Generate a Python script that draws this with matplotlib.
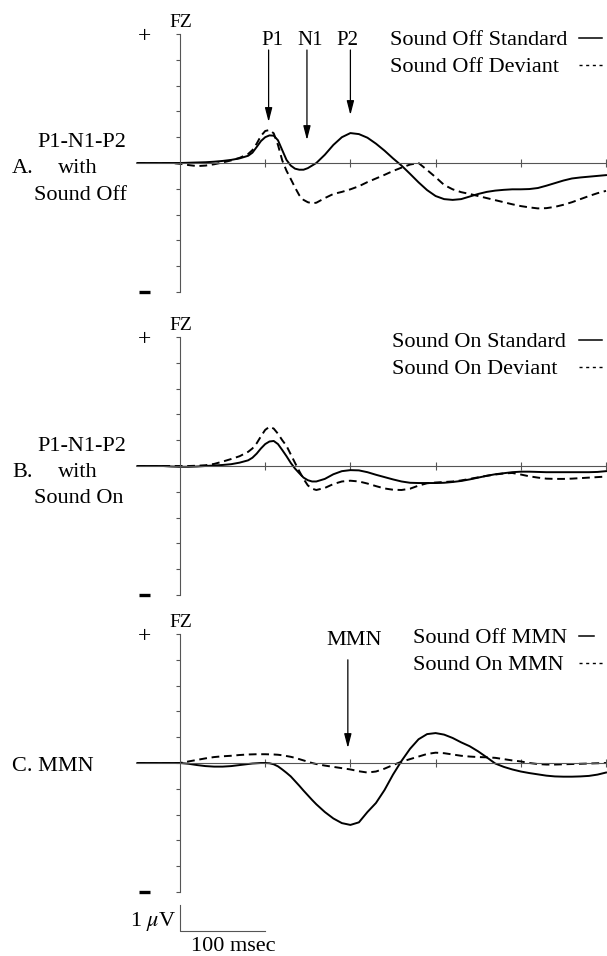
import matplotlib
matplotlib.use("Agg")
import matplotlib.pyplot as plt
import numpy as np

plt.rcParams['font.family'] = ['Liberation Serif', 'DejaVu Serif']
plt.rcParams['mathtext.fontset'] = 'stix'

# ---------------- data (µV), finer sampling around the early peaks ----------------
time_ms = ([-50, -40, -30, -20, -10, 0, 10, 20, 30, 40, 50, 60, 70, 80]
           + list(range(85, 161, 5))
           + list(range(170, 501, 10)))

sound_off_standard = [
    0, 0, 0, 0, 0, 0, 0.01, 0.02, 0.03, 0.05, 0.08, 0.12, 0.18, 0.28,
    0.4, 0.62, 0.85, 1.0, 1.07, 1.06, 0.88, 0.5, 0.12, -0.1, -0.22, -0.26, -0.26, -0.2, -0.1, 0.0,
    0.32, 0.7, 1.0, 1.16, 1.12, 0.98, 0.75, 0.48,
    0.18, -0.1, -0.42, -0.75, -1.05, -1.28, -1.4, -1.43, -1.4, -1.3,
    -1.2, -1.12, -1.07, -1.04, -1.02, -1.02, -1.01, -0.97, -0.88, -0.78,
    -0.68, -0.6, -0.56, -0.53, -0.5, -0.47]
sound_off_deviant = [
    0, 0, 0, 0, 0, -0.03, -0.08, -0.12, -0.1, -0.05, 0.02, 0.1, 0.2, 0.35,
    0.5, 0.75, 1.05, 1.24, 1.28, 1.15, 0.7, 0.1, -0.3, -0.62, -0.95, -1.25, -1.43, -1.52, -1.56, -1.54,
    -1.36, -1.2, -1.12, -1.02, -0.9, -0.74, -0.6, -0.46,
    -0.31, -0.18, -0.06, 0.0, -0.27, -0.55, -0.85, -1.02, -1.13, -1.2,
    -1.28, -1.36, -1.44, -1.52, -1.6, -1.67, -1.72, -1.76, -1.75, -1.7,
    -1.62, -1.52, -1.4, -1.28, -1.17, -1.08]

sound_on_standard = [
    0, 0, 0, 0, -0.02, -0.03, -0.03, -0.02, 0.0, 0.02, 0.04, 0.07, 0.13, 0.22,
    0.32, 0.48, 0.68, 0.85, 0.95, 0.97, 0.85, 0.62, 0.38, 0.12, -0.1, -0.28, -0.45, -0.55, -0.6, -0.6,
    -0.5, -0.32, -0.2, -0.16, -0.17, -0.24, -0.34, -0.43,
    -0.52, -0.6, -0.65, -0.66, -0.66, -0.66, -0.65, -0.62, -0.58, -0.52,
    -0.45, -0.38, -0.32, -0.28, -0.24, -0.22, -0.22, -0.23, -0.24, -0.24,
    -0.24, -0.24, -0.24, -0.24, -0.23, -0.2]
sound_on_deviant = [
    0, 0, 0, 0, 0, 0, 0, 0.01, 0.03, 0.08, 0.17, 0.27, 0.38, 0.55,
    0.68, 0.88, 1.15, 1.4, 1.52, 1.45, 1.25, 1.0, 0.78, 0.45, 0.12, -0.2, -0.5, -0.75, -0.88, -0.93,
    -0.85, -0.7, -0.6, -0.57, -0.6, -0.68, -0.78, -0.87,
    -0.92, -0.93, -0.88, -0.76, -0.67, -0.64, -0.62, -0.6, -0.56, -0.5,
    -0.44, -0.38, -0.33, -0.29, -0.27, -0.33, -0.4, -0.45, -0.49, -0.5,
    -0.5, -0.49, -0.47, -0.45, -0.43, -0.41]

sound_off_mmn = [
    0, 0, 0, 0, 0, 0, -0.03, -0.08, -0.12, -0.14, -0.14, -0.12, -0.08, -0.04,
    -0.02, -0.01, 0.0, 0.0, -0.01, -0.05, -0.13, -0.25, -0.38, -0.52, -0.7, -0.88, -1.07, -1.25, -1.43, -1.6,
    -1.9, -2.15, -2.33, -2.4, -2.3, -1.9, -1.55, -1.05,
    -0.45, 0.08, 0.55, 0.92, 1.12, 1.16, 1.1, 0.97, 0.8, 0.65,
    0.45, 0.22, -0.02, -0.15, -0.25, -0.33, -0.39, -0.44, -0.49, -0.52,
    -0.53, -0.53, -0.52, -0.5, -0.45, -0.37]
sound_on_mmn = [
    0, 0, 0, 0, 0, 0, 0.06, 0.12, 0.18, 0.23, 0.26, 0.28, 0.31, 0.33,
    0.335, 0.34, 0.34, 0.34, 0.335, 0.33, 0.32, 0.3, 0.27, 0.24, 0.2, 0.15, 0.1, 0.05, 0.0, -0.04,
    -0.1, -0.15, -0.2, -0.25, -0.32, -0.37, -0.33, -0.22,
    -0.08, 0.05, 0.15, 0.25, 0.35, 0.4, 0.38, 0.33, 0.28, 0.25,
    0.23, 0.22, 0.2, 0.15, 0.1, 0.06, 0.0, -0.04, -0.06, -0.06,
    -0.05, -0.04, -0.03, -0.02, -0.01, 0.0]

legend_labels = [("Sound Off Standard", "Sound Off Deviant"),
                 ("Sound On Standard", "Sound On Deviant"),
                 ("Sound Off MMN", "Sound On MMN")]
peak_labels = ["P1", "N1", "P2"]
peak_times = [104, 149, 200]
peak_tips = [1.59, 0.89, 1.86]
mmn_time = 197

# ---------------- layout ----------------
W, H = 607, 956
fig = plt.figure(figsize=(W / 100, H / 100), dpi=100)

def fx(px):
    return px / W

def fy(py):
    return 1 - py / H

PX_PER_UV = 25.8
PX_PER_MS = 0.852
X0 = 180           # pixel x of t = 0
AX_LEFT = 120
YHALF = 5.6
zeros = [163, 466, 763]

SERIF = ['Liberation Serif', 'DejaVu Serif']
FS = 16
axcol = '#555555'

series = [(sound_off_standard, sound_off_deviant),
          (sound_on_standard, sound_on_deviant),
          (sound_off_mmn, sound_on_mmn)]

axes = []
for i, z in enumerate(zeros):
    top = z - YHALF * PX_PER_UV
    bot = z + YHALF * PX_PER_UV
    ax = fig.add_axes([fx(AX_LEFT), fy(bot), fx(W - AX_LEFT), (bot - top) / H])
    ax.set_xlim((AX_LEFT - X0) / PX_PER_MS, (W - X0) / PX_PER_MS)
    ax.set_ylim(-YHALF, YHALF)
    ax.patch.set_alpha(0)
    for s in ['top', 'right']:
        ax.spines[s].set_visible(False)
    ax.spines['left'].set_position(('data', 0))
    ax.spines['left'].set_bounds(-5, 5)
    ax.spines['bottom'].set_position(('data', 0))
    ax.spines['bottom'].set_bounds(time_ms[0], time_ms[-1])
    for s in ['left', 'bottom']:
        ax.spines[s].set_color(axcol)
        ax.spines[s].set_linewidth(0.8)
    ax.set_yticks(range(-5, 6))
    ax.set_yticklabels([])
    ax.set_xticks([100, 200, 300, 400, 500])
    ax.set_xticklabels([])
    ax.tick_params(axis='y', direction='out', length=3, width=0.8, color=axcol)
    ax.tick_params(axis='x', direction='inout', length=6, width=0.8, color=axcol)

    std, dev = series[i]
    ax.plot(time_ms, std, color='black', lw=1.4, solid_joinstyle='round')
    ax.plot(time_ms, dev, color='black', lw=1.4, linestyle=(0, (4, 2.4)))

    # FZ, +, -
    ax.text(1, 5.27, "FZ", fontsize=14, ha='center', va='baseline',
            family=SERIF, clip_on=False)
    ax.text(-42, 4.9, "+", fontsize=17, ha='center', va='center',
            family=SERIF, clip_on=False)
    ax.plot([-48, -35], [-5, -5], color='black', lw=2.4, solid_capstyle='butt',
            clip_on=False)

    # legend (text + sample lines)
    l1, l2 = legend_labels[i]
    tx = 390 if i == 0 else (392 if i == 1 else 413)
    b1 = z - 118 if i == 0 else (z - 119 if i == 1 else z - 120)
    fig.text(fx(tx), fy(b1), l1, fontsize=FS, ha='left', va='baseline', family=SERIF)
    fig.text(fx(tx), fy(b1 + 27), l2, fontsize=FS, ha='left', va='baseline', family=SERIF)
    seg_end = 594 if i == 2 else 602
    fig.add_artist(plt.Line2D([fx(579), fx(seg_end)], [fy(b1 - 7), fy(b1 - 7)],
                              color='black', lw=1.1))
    fig.add_artist(plt.Line2D([fx(579), fx(604)], [fy(b1 + 20), fy(b1 + 20)],
                              color='black', lw=1.0, linestyle=(0, (2.2, 2.6))))
    axes.append(ax)

arrow_kw = dict(arrowstyle='-|>,head_length=0.85,head_width=0.22', lw=0.9,
                color='black', mutation_scale=10, shrinkA=0, shrinkB=0)

# Peak labels panel A
axA = axes[0]
label_x = [109, 153, 196]
for lab, lx, t, tip in zip(peak_labels, label_x, peak_times, peak_tips):
    axA.text(lx, 4.57, lab, fontsize=15, ha='center', va='baseline', family=SERIF)
    axA.annotate('', xy=(t, tip), xytext=(t, 4.38), arrowprops=arrow_kw,
                 annotation_clip=False)

# MMN label panel C
axC = axes[2]
axC.text(204, 4.57, "MMN", fontsize=16, ha='center', va='baseline', family=SERIF)
axC.annotate('', xy=(mmn_time, 0.58), xytext=(mmn_time, 4.0), arrowprops=arrow_kw,
             annotation_clip=False)

# scale bar (1 µV x 100 ms)
axC.plot([0, 0, 100], [-5.5, -6.5, -6.5], color=axcol, lw=0.8, clip_on=False)
axC.text(-4, -6.3, r"1 $\mu$V", fontsize=16, ha='right', va='baseline',
         family=SERIF, clip_on=False)
axC.text(62, -7.28, "100 msec", fontsize=16, ha='center', va='baseline',
         family=SERIF, clip_on=False)

# left-hand panel labels
fig.text(fx(82), fy(147), "P1-N1-P2", fontsize=FS, ha='center', va='baseline', family=SERIF)
fig.text(fx(12), fy(173), "A.", fontsize=FS, ha='left', va='baseline', family=SERIF)
fig.text(fx(78), fy(173), "with", fontsize=FS, ha='center', va='baseline', family=SERIF)
fig.text(fx(81), fy(200), "Sound Off", fontsize=FS, ha='center', va='baseline', family=SERIF)

fig.text(fx(82), fy(451), "P1-N1-P2", fontsize=FS, ha='center', va='baseline', family=SERIF)
fig.text(fx(12), fy(477), "B.", fontsize=FS, ha='left', va='baseline', family=SERIF)
fig.text(fx(78), fy(477), "with", fontsize=FS, ha='center', va='baseline', family=SERIF)
fig.text(fx(79), fy(503), "Sound On", fontsize=FS, ha='center', va='baseline', family=SERIF)

fig.text(fx(12), fy(771), "C. MMN", fontsize=FS, ha='left', va='baseline', family=SERIF)

fig.savefig("out.png", dpi=100, facecolor='white')
